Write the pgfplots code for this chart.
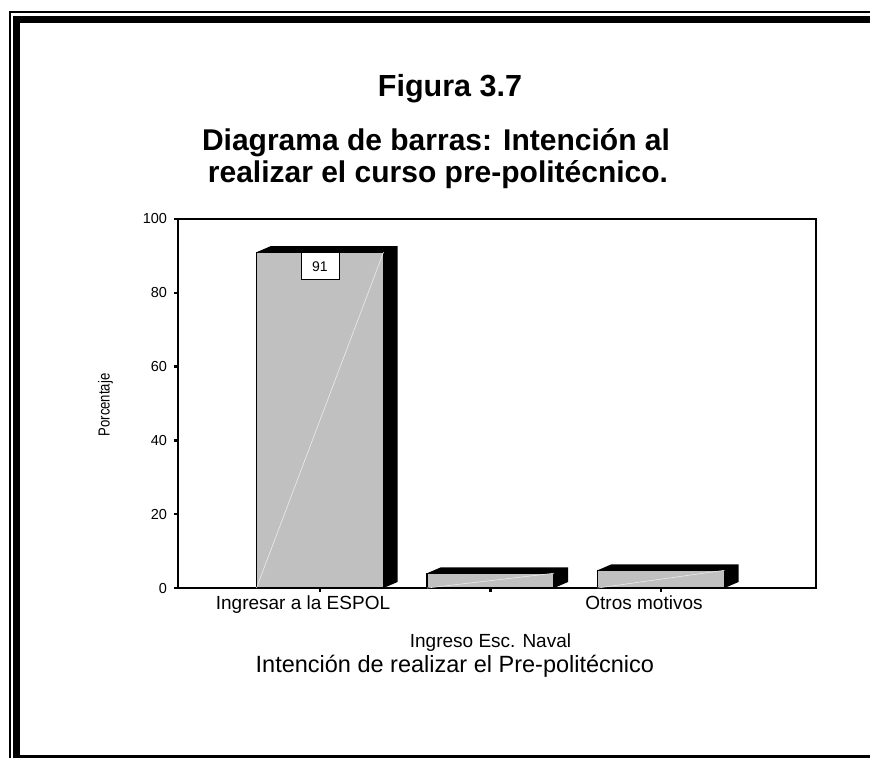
\documentclass[border=0pt]{standalone}
\usepackage{pgfplots}
\pgfplotsset{compat=1.18}
\usepackage{fontspec}
\setmainfont{Liberation Sans}
\newfontfamily\narrowfont[FakeStretch=0.82]{Liberation Sans}
\definecolor{bargray}{RGB}{192,192,192}

% top and right side of a 3D bar, drawn at the bar's top centre
\pgfdeclareplotmark{bar3d}{%
  \pgfmathsetlengthmacro\barh{\yv*3.69pt}%
  \pgfpathmoveto{\pgfqpoint{-63.5pt}{0pt}}%
  \pgfpathlineto{\pgfqpoint{-49.5pt}{6pt}}%
  \pgfpathlineto{\pgfqpoint{77.5pt}{6pt}}%
  \pgfpathlineto{\pgfpoint{77.5pt}{6pt-\barh}}%
  \pgfpathlineto{\pgfpoint{63.5pt}{-\barh}}%
  \pgfpathlineto{\pgfqpoint{63.5pt}{0pt}}%
  \pgfpathclose
  \pgfsetfillcolor{black}%
  \pgfusepathqfill
  \pgfpathmoveto{\pgfpoint{-63.5pt}{-\barh}}%
  \pgfpathlineto{\pgfqpoint{63.5pt}{0pt}}%
  \pgfsetstrokecolor{white!85!gray}%
  \pgfsetlinewidth{0.6pt}%
  \pgfusepathqstroke
}

\begin{document}
\begin{tikzpicture}
\useasboundingbox (0,0) rectangle (870pt,-758pt);
% frame
\draw[line width=2pt] (9.5pt,-758pt) -- (9.5pt,-12pt) -- (870pt,-12pt);
\draw[line width=7pt] (16.5pt,-758pt) -- (16.5pt,-19.5pt) -- (870pt,-19.5pt);
\draw[line width=3pt] (13pt,-756.5pt) -- (870pt,-756.5pt);

% titles
\node[font=\fontsize{30.5}{36}\selectfont\bfseries, anchor=base] at (450pt,-96pt) {Figura 3.7};
\node[font=\fontsize{30}{36}\selectfont\bfseries, anchor=base] at (436pt,-150pt) {Diagrama de barras: Intención al};
\node[font=\fontsize{30}{36}\selectfont\bfseries, anchor=base] at (438pt,-182pt) {realizar el curso pre-politécnico.};

\begin{axis}[
  at={(178pt,-588pt)}, anchor=south west,
  scale only axis, width=638pt, height=369pt,
  xmin=0.1672, xmax=3.909, ymin=0, ymax=100,
  ytick={0,20,...,100},
  xtick={1,3}, xticklabels={Ingresar a la ESPOL, Otros motivos},
  extra x ticks={2}, extra x tick labels={Ingreso Esc. Naval},
  extra x tick style={xticklabel style={yshift=-38pt, xshift=17pt}},
  tick align=outside, tick pos=left,
  major tick length=4pt,
  every tick/.style={black, line width=2.5pt},
  line width=1.3pt,
  /pgf/number format/assume math mode=true,
  yticklabel style={font=\fontsize{14.5}{17}\selectfont, xshift=-3pt},
  xticklabel style={font=\fontsize{19}{22}\selectfont, xshift=-17pt},
  ylabel={Porcentaje},
  ylabel style={font=\narrowfont\fontsize{16}{19}\selectfont,
    at={(axis description cs:-0.1136,0.496)}, anchor=center},
  xlabel={Intención de realizar el Pre-politécnico},
  xlabel style={font=\fontsize{23.5}{27}\selectfont,
    at={(axis description cs:0.434,-0.213)}, anchor=center},
]
\addplot[ybar, bar width=127pt, fill=bargray, draw=black, line width=1.2pt]
  coordinates {(1,91) (2,4.0) (3,4.8)};
\addplot[scatter, only marks, mark=bar3d,
  visualization depends on={rawy \as \yv}]
  coordinates {(1,91) (2,4.0) (3,4.8)};
\addplot[draw=none, mark=none, nodes near coords,
  every node near coord/.append style={draw=black, fill=white, line width=0.8pt,
    minimum width=38pt, minimum height=27pt, inner sep=0pt,
    font=\fontsize{14}{16}\selectfont, yshift=-28pt}]
  coordinates {(1,91)};
\end{axis}
\end{tikzpicture}
\end{document}
